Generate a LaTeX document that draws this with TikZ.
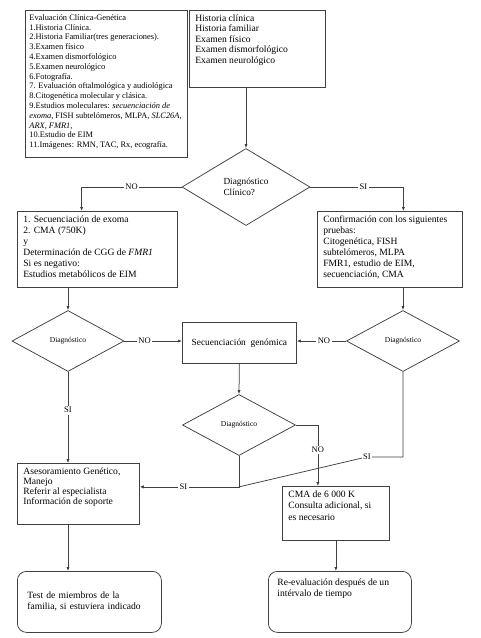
\documentclass[tikz,border=0pt]{standalone}
\usepackage{fontspec}
\setmainfont{Liberation Serif}
\usepackage{tikz}
\usetikzlibrary{arrows.meta,shapes.geometric}
\newcommand{\Tb}[3]{\parbox[c][#2][t]{#1}{\raggedright #3}}
\newcommand{\Fs}[2]{\fontsize{#1}{#2}\selectfont}
\tikzset{
    >={Latex[length=4pt,width=3.2pt]},
    link/.style={draw=black!75,line width=0.75pt},
    box/.style={draw=black!75,line width=0.75pt,anchor=north west,inner xsep=6pt,inner ysep=4pt},
    rbox/.style={box,rounded corners=9pt},
    dia/.style 2 args={draw=black!75,line width=0.75pt,diamond,minimum width=#1,minimum height=#2,inner sep=0pt,font=\Fs{7.5}{9}},
    lbl/.style={fill=white,draw=none,inner sep=1.5pt,font=\Fs{8.5}{10}},
}
\begin{document}
\begin{tikzpicture}[x=1pt,y=-1pt]
    \fill[white] (0,0) rectangle (481,638);
    \useasboundingbox (0,0) rectangle (481,638);

    % top boxes
    \node[box,inner xsep=4pt,font=\Fs{8.4}{9.8}] (b1) at (25,10) {\Tb{154pt}{139pt}{%
        Evaluación Clínica-Genética\\
        1.Historia Clínica.\\
        2.Historia Familiar(tres generaciones).\\
        3.Examen físico\\
        4.Examen dismorfológico\\
        5.Examen neurológico\\
        6.Fotografía.\\
        7. Evaluación oftalmológica y audiológica\\
        8.Citogenética molecular y clásica.\\
        9.Estudios moleculares: \textit{secuenciación de}\\
        \textit{exoma}, FISH subtelómeros, MLPA, \textit{SLC26A,}\\
        \textit{ARX, FMR1},\\
        10.Estudio de EIM\\
        11.Imágenes: RMN, TAC, Rx, ecografía.}};
    \node[box,font=\Fs{9.6}{10.5}] (b2) at (189,10) {\Tb{124pt}{69pt}{%
        Historia clínica\\
        Historia familiar\\
        Examen físico\\
        Examen dismorfológico\\
        Examen neurológico}};

    \node[dia={128pt}{77pt},align=left,font=\Fs{9.3}{11.5}] (d1) at (246,187) {Diagnóstico\\Clínico?};

    % second row
    \node[box,font=\Fs{9.6}{11}] (b3) at (17,211) {\Tb{148pt}{68pt}{%
        1. Secuenciación de exoma\\
        2. CMA (750K)\\
        y\\
        Determinación de CGG de \textit{FMR1}\\
        Si es negativo:\\
        Estudios metabólicos de EIM}};
    \node[box,font=\Fs{9.6}{11}] (b4) at (317,211) {\Tb{133pt}{68pt}{%
        Confirmación con los siguientes\\
        pruebas:\\
        Citogenética, FISH\\
        subtelómeros, MLPA\\
        FMR1, estudio de EIM,\\
        secuenciación, CMA}};

    \node[dia={112pt}{61pt}] (d2) at (68,341) {Diagnóstico};
    \node[dia={113pt}{61pt}] (d3) at (403,341) {Diagnóstico};
    \node[box,inner sep=0pt,minimum width=114pt,minimum height=41pt,font=\Fs{9.4}{11}] (b5) at (182,322) {Secuenciación\ \ genómica};
    \node[dia={113pt}{61pt}] (d4) at (239,425) {Diagnóstico};

    % bottom boxes
    \node[box,font=\Fs{9.6}{10}] (b6) at (17,463) {\Tb{110pt}{53pt}{%
        Asesoramiento Genético,\\
        Manejo\\
        Referir al especialista\\
        Información de soporte}};
    \node[box,font=\Fs{9.6}{11.5}] (b7) at (282,486) {\Tb{95pt}{46pt}{%
        CMA de 6 000 K\\
        Consulta adicional, si\\
        es necesario}};
    \node[rbox,inner xsep=10pt,text width=124pt,minimum height=61pt,align=left,font=\Fs{9.6}{11}] (b8) at (17,571) {Test de miembros de la\\familia, si estuviera indicado};
    \node[rbox,inner xsep=9pt,inner ysep=7pt,font=\Fs{9.6}{11}] (b9) at (268,571) {\Tb{125pt}{47pt}{%
        Re-evaluación después de un\\
        intérvalo de tiempo}};

    % connectors
    \draw[link,->] (b2.south -| d1.north) -- (d1.north);
    \draw[link,->] (d1.west) -- node[lbl]{NO} ++(-100,0) coordinate (c1) -- (c1 |- b3.north);
    \draw[link,->] (d1.east) -- node[lbl,pos=0.57]{SI} ++(93,0) coordinate (c2) -- (c2 |- b4.north);
    \draw[link,->] (b3.south -| d2.north) -- (d2.north);
    \draw[link,->] (b4.south -| d3.north) -- (d3.north);
    \draw[link,->] (d2.east) -- node[lbl,pos=0.35]{NO} (d2.east -| b5.west);
    \draw[link,->] (d3.west) -- node[lbl,pos=0.45]{NO} (d3.west -| b5.east);
    \draw[link,->] (b5.south) -- (d4.north);
    \draw[link,->] (d4.east) -- ++(22,0) coordinate (c3) -- node[lbl,pos=0.41]{NO} (c3 |- b7.north);
    \draw[link,->] (d4.south) -- ++(0,31) coordinate (jn) -- node[lbl,pos=0.56]{SI} (jn -| b6.east);
    \draw[link] (d3.south) -- ++(0,85) coordinate (c4) -- ++(-36,0) node[lbl]{SI} -- (jn);
    \draw[link,->] (d2.south) -- node[lbl,pos=0.42]{SI} (d2.south |- b6.north);
    \draw[link,->] (b6.south -| d2.south) -- (b8.north -| d2.south);
    \draw[link,->] (b7.south) -- (b7.south |- b9.north);
\end{tikzpicture}
\end{document}
